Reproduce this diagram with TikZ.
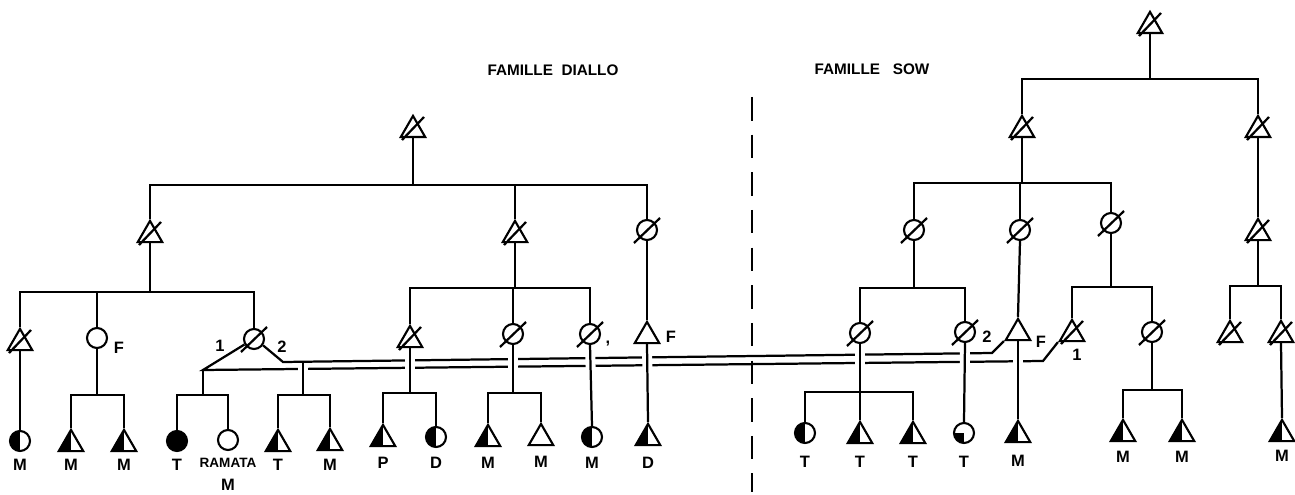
\documentclass[tikz,border=0pt]{standalone}
\usepackage{fontspec}
\setmainfont{Liberation Sans}
\usetikzlibrary{shapes.geometric,calc,backgrounds}
\tikzset{
  ln/.style={line width=1.9pt},
  thinln/.style={line width=1.1pt},
  sym/.style={draw, line width=1.8pt, inner sep=0pt, fill=white},
  circ/.style={sym, circle, minimum size=17pt},
  tri/.style={sym, regular polygon, regular polygon sides=3, minimum size=24pt},
  lefthalf/.style={path picture={\fill[black] (path picture bounding box.south west) rectangle (path picture bounding box.north);}},
  quarterfill/.style={path picture={\fill[black] (path picture bounding box.south west) rectangle (path picture bounding box.center);}},
  solidfill/.style={fill=black},
  lbl/.style={font=\bfseries\fontsize{14}{14}\selectfont, inner sep=0pt},
  smalllbl/.style={font=\bfseries\fontsize{11.5}{11.5}\selectfont, inner sep=0pt},
  titlelbl/.style={font=\bfseries\fontsize{13}{13}\selectfont, inner sep=0pt},
  crossgap/.style={preaction={draw=white, line width=8.5pt}},
}
\newcommand\slashT[1]{\draw[ln] ($(#1)+(-11,10)$) -- ($(#1)+(11,-13)$);}
\newcommand\slashC[1]{\draw[ln] ($(#1)+(-13,13)$) -- ($(#1)+(13,-12)$);}
\begin{document}
\begin{tikzpicture}[x=0.85pt,y=-0.85pt]
\useasboundingbox (0,0) rectangle (1295,495);

% titles
\node[titlelbl] (t1) at (553,70) {FAMILLE\ \ DIALLO};
\node[titlelbl] (t2) at (872,69) {FAMILLE\ \ \ SOW};

% ---------- DIALLO ----------
\node[tri] (dT) at (413,130) {};
\node[tri] (dA) at (150,235) {};
\node[tri] (dB) at (515,235) {};
\node[circ] (dC) at (647,230) {};
\node[tri] (d1) at (20,343) {};
\node[circ] (d2) at (97,338) {};
\node[circ] (d3) at (254,339) {};
\node[tri] (d4) at (410,340) {};
\node[circ] (d5) at (513,334) {};
\node[circ] (d6) at (590,334) {};
\node[tri] (d7) at (647,336) {};

\node[circ,lefthalf] (c1) at (20,441) {};
\node[tri,lefthalf] (c2) at (71,444) {};
\node[tri,lefthalf] (c3) at (124,444) {};
\node[circ,solidfill] (c4) at (177,441) {};
\node[circ] (c5) at (228,440) {};
\node[tri,lefthalf] (c6) at (278,444) {};
\node[tri,lefthalf] (c7) at (330,443) {};
\node[tri,lefthalf] (c8) at (383,439) {};
\node[circ,lefthalf] (c9) at (436,437) {};
\node[tri,lefthalf] (c10) at (488,439) {};
\node[tri] (c11) at (541,438) {};
\node[circ,lefthalf] (c12) at (592,437) {};
\node[tri,lefthalf] (c13) at (648,438) {};

% ---------- SOW ----------
\node[tri] (sT) at (1150,26) {};
\node[tri] (sA) at (1022,130) {};
\node[tri] (sB) at (1258,130) {};
\node[circ] (sC) at (914,230) {};
\node[circ] (sD) at (1020,230) {};
\node[circ] (sE) at (1111,223) {};
\node[tri] (sF) at (1258,233) {};
\node[circ] (s1) at (860,333) {};
\node[circ] (s2) at (965,332) {};
\node[tri] (s3) at (1018,333) {};
\node[tri] (s4) at (1072,334) {};
\node[circ] (s5) at (1152,332) {};
\node[tri] (s6) at (1230,335) {};
\node[tri] (s7) at (1281,335) {};

\node[circ,lefthalf] (c14) at (805,433) {};
\node[tri,lefthalf] (c15) at (860,436) {};
\node[tri,lefthalf] (c16) at (913,436) {};
\node[circ,quarterfill] (c17) at (964,433) {};
\node[tri,lefthalf] (c18) at (1018,435) {};
\node[tri,lefthalf] (c19) at (1123,434) {};
\node[tri,lefthalf] (c20) at (1182,434) {};
\node[tri,lefthalf] (c21) at (1282,434) {};

% slashes (deceased)
\slashT{dT} \slashT{dA} \slashT{dB} \slashC{dC}
\slashT{d1} \slashC{d3} \slashT{d4} \slashC{d5} \slashC{d6}
\slashT{sT} \slashT{sA} \slashT{sB} \slashC{sC} \slashC{sD} \slashC{sE} \slashT{sF}
\slashC{s1} \slashC{s2} \slashT{s4} \slashC{s5} \slashT{s6} \slashT{s7}

% level coordinates
\coordinate (h185) at (0,185);
\coordinate (h292) at (0,292);
\coordinate (h288) at (0,288);
\coordinate (h395) at (0,395);
\coordinate (h393) at (0,393);
\coordinate (h79) at (0,79);
\coordinate (h183) at (0,183);
\coordinate (h287) at (0,287);
\coordinate (h286) at (0,286);
\coordinate (h392) at (0,392);
\coordinate (h390) at (0,390);
\coordinate (m1) at (203,370);
\coordinate (m2) at (283,362);
\coordinate (m1e) at (1043,361);
\coordinate (m2e) at (992,353);
\coordinate (m2v) at (303,362);
\coordinate (dashA) at (752,97);
\coordinate (dashB) at (752,492);

\begin{pgfonlayer}{background}
% dashed separator
\draw[ln, dash pattern=on 20pt off 12pt] (dashA) -- (dashB);
% marriage double line
\draw[ln] (d3.210) -- (m1) -- (m1e) -- (s4.corner 2);
\draw[ln] (d3.-35) -- (m2) -- (m2e) -- (s3.corner 2);
% verticals crossing the double line
\draw[ln] (m2v) -- ($(m2v)+(0,4)$);
\draw[ln,crossgap] ($(m2v)+(0,4)$) -- (m2v |- h395);
\draw[ln,crossgap] (d4.south) -- (d4.south |- h393);
\draw[ln,crossgap] (d5.south) -- (d5.south |- h393);
\draw[ln,crossgap] (d6.south) -- (c12.north);
\draw[ln,crossgap] (d7.south) -- (c13.north);
\draw[ln,crossgap] (s1.south) -- (c15.north);
\draw[ln,crossgap] (s2.south) -- (c17.north);
\draw[ln,crossgap] (s3.south) -- (c18.north);
% DIALLO tree
\draw[thinln] (dT.south) -- (dT.south |- h185);
\draw[ln] (dA.north) |- (dC.north |- h185) -- (dC.north);
\draw[ln] (dB.north) -- (dB.north |- h185);
\draw[ln] (dA.south) -- (dA.south |- h292);
\draw[ln] (d1.north) |- (d3.north |- h292) -- (d3.north);
\draw[ln] (d2.north) -- (d2.north |- h292);
\draw[ln] (dB.south) -- (dB.south |- h288);
\draw[ln] (d4.north) |- (d6.north |- h288) -- (d6.north);
\draw[ln] (d5.north) -- (d5.north |- h288);
\draw[ln] (dC.south) -- (d7.north);
\draw[ln] (d1.south) -- (c1.north);
\draw[ln] (d2.south) -- (d2.south |- h395);
\draw[ln] (c2.north) |- (c3.north |- h395) -- (c3.north);
\draw[ln] (m1) -- (m1 |- h395);
\draw[ln] (c4.north) |- (c5.north |- h395) -- (c5.north);
\draw[ln] (c6.north) |- (c7.north |- h395) -- (c7.north);
\draw[ln] (c8.north) |- (c9.north |- h393) -- (c9.north);
\draw[ln] (c10.north) |- (c11.north |- h393) -- (c11.north);
% SOW tree
\draw[thinln] (sT.south) -- (sT.south |- h79);
\draw[ln] (sA.north) |- (sB.north |- h79) -- (sB.north);
\draw[ln] (sA.south) -- (sA.south |- h183);
\draw[ln] (sC.north) |- (sE.north |- h183) -- (sE.north);
\draw[ln] (sD.north) -- (sD.north |- h183);
\draw[ln] (sB.south) -- (sF.north);
\draw[ln] (sC.south) -- (sC.south |- h288);
\draw[ln] (s1.north) |- (s2.north |- h288) -- (s2.north);
\draw[ln] (sD.south) -- (s3.north);
\draw[ln] (sE.south) -- (sE.south |- h287);
\draw[ln] (s4.north) |- (s5.north |- h287) -- (s5.north);
\draw[ln] (sF.south) -- (sF.south |- h286);
\draw[ln] (s6.north) |- (s7.north |- h286) -- (s7.north);
\draw[ln] (c14.north) |- (c16.north |- h392) -- (c16.north);
\draw[ln] (s5.south) -- (s5.south |- h390);
\draw[ln] (c19.north) |- (c20.north |- h390) -- (c20.north);
\draw[ln] (s7.south) -- (c21.north);
\end{pgfonlayer}

% side labels
\node[lbl] (fa) at (119,348) {F};
\node[lbl] (n1) at (220,346) {1};
\node[lbl] (n2) at (282,347) {2};
\node[lbl] (cm) at (608,344) {,};
\node[lbl] (fb) at (671,337) {F};
\node[lbl] (n3) at (987,337) {2};
\node[lbl] (fc) at (1041,342) {F};
\node[lbl] (n4) at (1077,355) {1};

% bottom labels
\node[lbl] (l1) at (20,465) {M};
\node[lbl] (l2) at (71,465) {M};
\node[lbl] (l3) at (124,465) {M};
\node[lbl] (l4) at (177,465) {T};
\node[smalllbl] (l5) at (228,463) {RAMATA};
\node[lbl] (l5b) at (228,485) {M};
\node[lbl] (l6) at (278,465) {T};
\node[lbl] (l7) at (330,465) {M};
\node[lbl] (l8) at (383,463) {P};
\node[lbl] (l9) at (436,463) {D};
\node[lbl] (l10) at (488,463) {M};
\node[lbl] (l11) at (541,462) {M};
\node[lbl] (l12) at (592,463) {M};
\node[lbl] (l13) at (648,463) {D};
\node[lbl] (l14) at (805,462) {T};
\node[lbl] (l15) at (860,462) {T};
\node[lbl] (l16) at (913,462) {T};
\node[lbl] (l17) at (964,462) {T};
\node[lbl] (l18) at (1018,461) {M};
\node[lbl] (l19) at (1123,457) {M};
\node[lbl] (l20) at (1182,457) {M};
\node[lbl] (l21) at (1282,456) {M};
\end{tikzpicture}
\end{document}
